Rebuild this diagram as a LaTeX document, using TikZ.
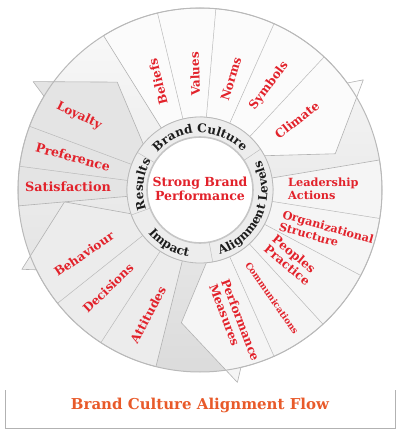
\documentclass[tikz,border=0pt]{standalone}
\usepackage{fontspec}
\setmainfont{DejaVu Serif}
\usetikzlibrary{decorations.text}

\definecolor{brandred}{HTML}{E2222B}
\definecolor{ringink}{HTML}{1C1C1C}
\definecolor{titleorange}{HTML}{E85A2A}
\newcommand{\secfont}{\bfseries\fontsize{12}{13}\selectfont}
\newcommand{\ringfont}{\bfseries\fontsize{12}{13}\selectfont}

\tikzset{
  seclabel/.style={text=brandred, font=\secfont, inner sep=0pt, align=left},
  arrowseg/.style={draw=gray!60, line width=0.6pt, line join=round},
  spoke/.style={draw=gray!55, line width=0.5pt},
  ringtext/.style={decorate, decoration={text along path, text align=center, text color=ringink, text={#1}}},
}

\begin{document}
\begin{tikzpicture}[x=1pt, y=1pt]
    \useasboundingbox (-200,-244) rectangle (200,190);

    % Base disk
    \shade[top color=gray!4, bottom color=gray!28] (0,0) circle (182);

    % Brand Culture arrow
    \filldraw[arrowseg, fill=gray!3] (122:73) -- (122:182) arc[start angle=122, end angle=36, radius=182]
        -- (34:197) -- (15:140) -- (28:73) arc[start angle=28, end angle=122, radius=73] -- cycle;
    \draw[spoke] (103.5:73) -- (103.5:182);
    \draw[spoke] (85:73) -- (85:182);
    \draw[spoke] (66:73) -- (66:182);
    \draw[spoke] (47:73) -- (47:182);

    % Alignment Levels arrow
    \filldraw[arrowseg, fill=gray!8] (9.5:73) -- (9.5:182) arc[start angle=9.5, end angle=-77, radius=182]
        -- (-79:196) -- (-98:134) -- (-85:73) arc[start angle=-85, end angle=9.5, radius=73] -- cycle;
    \draw[spoke] (-9:73) -- (-9:182);
    \draw[spoke] (-28:73) -- (-28:182);
    \draw[spoke] (-47.5:73) -- (-47.5:182);
    \draw[spoke] (-66:73) -- (-66:182);

    % Impact arrow
    \filldraw[arrowseg, fill=gray!15] (-104:73) -- (-104:182) arc[start angle=-104, end angle=-154, radius=182]
        -- (-156:195) -- (-175:136) -- (-161:73) arc[start angle=-161, end angle=-104, radius=73] -- cycle;
    \draw[spoke] (-123:73) -- (-123:182);
    \draw[spoke] (-141.5:73) -- (-141.5:182);

    % Results arrow
    \filldraw[arrowseg, fill=gray!21] (185:73) -- (185:182) arc[start angle=185, end angle=149, radius=182]
        -- (147:199) -- (127.5:136) -- (141:73) arc[start angle=141, end angle=185, radius=73] -- cycle;
    \draw[spoke] (172.5:73) -- (172.5:182);
    \draw[spoke] (159.5:73) -- (159.5:182);

    % Outer rim
    \draw[gray!55, line width=1pt] (0,0) circle (182);

    % Inner ring and core
    \filldraw[fill=gray!14, draw=gray!55, line width=0.8pt] (0,0) circle (73);
    \draw[gray!55] (34:53) -- (34:73);
    \draw[gray!55] (149:53) -- (149:73);
    \draw[gray!55] (200:53) -- (200:73);
    \draw[gray!55] (-80:53) -- (-80:73);
    \filldraw[fill=white, draw=gray!45, line width=1.6pt] (0,0) circle (53);

    % Ring labels
    \path[ringtext={|\ringfont|Brand Culture}] (148:57) arc[start angle=148, end angle=32, radius=57];
    \path[ringtext={|\ringfont|Alignment Levels}] (-80:67.5) arc[start angle=-80, end angle=33, radius=67.5];
    \path[ringtext={|\ringfont|Impact}] (200:67.5) arc[start angle=200, end angle=280, radius=67.5];
    \path[ringtext={|\ringfont|Results}] (200:57) arc[start angle=200, end angle=149, radius=57];

    % Core label
    \node[text=brandred, font=\bfseries\fontsize{12.5}{14}\selectfont, align=center] (core) at (0,1) {Strong Brand\\Performance};

    % Brand Culture items
    \node[seclabel, rotate=104] (beliefs) at (-42,108) {Beliefs};
    \node[seclabel, rotate=92] (values) at (-5,116) {Values};
    \node[seclabel, rotate=73] (norms) at (31,111) {Norms};
    \node[seclabel, rotate=53] (symbols) at (69,104) {Symbols};
    \node[seclabel, rotate=38] (climate) at (97,70) {Climate};

    % Alignment Levels items
    \node[seclabel, font=\bfseries\fontsize{11.3}{12.5}\selectfont, anchor=west] (leadership) at (88,1) {Leadership\\Actions};
    \node[seclabel, font=\bfseries\fontsize{11.3}{12.5}\selectfont, anchor=west, rotate=-16] (organizational) at (81,-30) {Organizational\\Structure};
    \node[seclabel, anchor=west, rotate=-40] (peoples) at (70,-52) {Peoples\\Practice};
    \node[seclabel, font=\bfseries\fontsize{9}{10}\selectfont, rotate=-55] (communications) at (72,-108) {Communications};
    \node[seclabel, anchor=west, rotate=-69] (performance) at (19,-92) {Performance\\Measures};

    % Impact items
    \node[seclabel, rotate=62] (attitudes) at (-52,-125) {Attitudes};
    \node[seclabel, rotate=44] (decisions) at (-92,-98) {Decisions};
    \node[seclabel, rotate=34] (behaviour) at (-116,-64) {Behaviour};

    % Results items
    \node[seclabel, font=\bfseries\fontsize{12.8}{14}\selectfont] (satisfaction) at (-132,3) {Satisfaction};
    \node[seclabel, font=\bfseries\fontsize{12.5}{14}\selectfont, rotate=-15] (preference) at (-127,33) {Preference};
    \node[seclabel, rotate=-26] (loyalty) at (-121,74) {Loyalty};

    % Title
    \node[text=titleorange, font=\bfseries\fontsize{15}{17}\selectfont] (title) at (0,-215) {Brand Culture Alignment Flow};
    \draw[gray!60, line width=0.6pt] (-195,-200) -- (-195,-238) -- (195,-238) -- (195,-200);
\end{tikzpicture}
\end{document}
